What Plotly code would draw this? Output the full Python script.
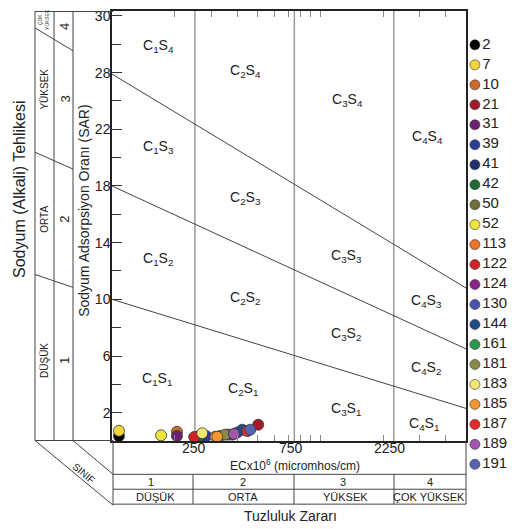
import numpy as np
import plotly.graph_objects as go

# The page body has an 8px margin, so the figure is drawn 8px in from the
# window's top-left corner; all reference pixel positions are shifted by OFF.
OFF = 8
W, H = 519 - OFF, 529 - OFF
TOP = 8  # highest reachable pixel row

# ---------------- data ----------------
samples = ['2', '7', '10', '21', '31', '39', '41', '42', '50', '52', '113',
           '122', '124', '130', '144', '161', '181', '183', '185', '187', '189', '191']
colors = ['#000000', '#f3d43c', '#c96b2c', '#a3192a', '#6b1f6f', '#2c3c96', '#1f2f6b',
          '#1f6b35', '#6f6f3a', '#f0e33c', '#e8732a', '#d0202a', '#8a248a', '#4b4fae',
          '#1c4d85', '#2a9a50', '#8a8a48', '#f0e870', '#f2962f', '#e42a2a', '#a455b0', '#5563b0']
ec = [108, 108, 205, 503, 205, 283, 265, 259, 361, 172, 313,
      248, 378, 399, 422, 330, 349, 271, 320, 446, 385, 461]
sar = [0.35, 0.72, 0.65, 1.15, 0.35, 0.35, 0.40, 0.30, 0.45, 0.40, 0.30,
       0.28, 0.45, 0.60, 0.80, 0.35, 0.45, 0.55, 0.30, 0.70, 0.50, 0.80]

# class boundaries (EC at 100 and 5000)
ec_ends = [100, 5000]
s1_s2 = [10.0, 2.3]
s2_s3 = [18.0, 6.5]
s3_s4 = [25.9, 10.8]
c_bounds = [250, 750, 2250]

y_tickvals = [2, 6, 10, 14, 18, 22, 26, 30]
y_ticktext = ['2', '6', '10', '14', '18', '22', '28', '30']
y_minor = [4, 8, 12, 16, 20, 24, 28]
x_minor = [200, 300, 400, 500, 600, 700, 800, 900, 1000, 2000, 3000, 4000]
x_labels = ['250', '750', '2250']

FONT = 'Liberation Sans, Arial, sans-serif'
TXT = '#222222'
LINE = '#444444'

Y_PER_UNIT = 14.25
Y_BOTTOM = 440.5
Y_TOP_VAL = (Y_BOTTOM - TOP) / Y_PER_UNIT


def px(x):
    return (x - OFF) / W


def py(y):
    return 1 - (max(y, TOP) - OFF) / H


fig = go.Figure()

# vertical salinity class lines
for c in c_bounds:
    fig.add_trace(go.Scatter(x=[c, c], y=[0, Y_TOP_VAL], mode='lines',
                             line=dict(color='#9a9a9a', width=1.5), hoverinfo='skip'))
# sodium hazard boundary lines
for b in (s1_s2, s2_s3, s3_s4):
    fig.add_trace(go.Scatter(x=ec_ends, y=b, mode='lines',
                             line=dict(color=LINE, width=1), hoverinfo='skip'))

# samples
for s, c, e, v in zip(samples, colors, ec, sar):
    fig.add_trace(go.Scatter(x=[e], y=[v], mode='markers', name=s,
                             marker=dict(size=11, color=c, line=dict(color='#333333', width=0.8))))

# manual legend
n = len(samples)
fig.add_trace(go.Scatter(x=[0.1] * n, y=list(range(n)), mode='markers+text', text=samples,
                         textposition='middle right', cliponaxis=False,
                         textfont=dict(size=15, color=TXT, family=FONT),
                         marker=dict(size=10, color=colors, line=dict(color='#333333', width=0.6)),
                         xaxis='x2', yaxis='y2', hoverinfo='skip'))

shapes = []


def seg(x0, y0, x1, y1, color=LINE, width=1):
    shapes.append(dict(type='line', xref='paper', yref='paper',
                       x0=px(x0), y0=py(y0), x1=px(x1), y1=py(y1),
                       line=dict(color=color, width=width)))


# left panel
for x in (35, 54, 73):
    seg(x, TOP, x, 440)
seg(35, TOP + 0.5, 113, TOP + 0.5)
seg(35, 25, 73, 48)
seg(35, 150, 73, 167)
seg(35, 273, 73, 286)
seg(35, 440, 113, 440)
# bottom panel
seg(35, 440, 113, 505)
seg(73, 440, 113, 474)
seg(113, 440, 113, 505)
seg(466, 440, 466, 504)
for y in (474, 489, 504):
    seg(113, y, 466, y)
for x in (193, 294, 394):
    seg(x, 474, x, 504)

annotations = []


def ann(text, x, y, size=14, angle=0):
    annotations.append(dict(text=text, xref='paper', yref='paper', x=px(x), y=py(y),
                            xanchor='center', yanchor='middle', showarrow=False,
                            textangle=angle, font=dict(size=size, color=TXT, family=FONT)))


regions = [('C<sub>1</sub>S<sub>4</sub>', 158, 43), ('C<sub>2</sub>S<sub>4</sub>', 245, 68),
           ('C<sub>3</sub>S<sub>4</sub>', 347, 98), ('C<sub>4</sub>S<sub>4</sub>', 427, 135),
           ('C<sub>1</sub>S<sub>3</sub>', 158, 145), ('C<sub>2</sub>S<sub>3</sub>', 245, 196),
           ('C<sub>3</sub>S<sub>3</sub>', 346, 254), ('C<sub>4</sub>S<sub>3</sub>', 426, 300),
           ('C<sub>1</sub>S<sub>2</sub>', 158, 257), ('C<sub>2</sub>S<sub>2</sub>', 245, 297),
           ('C<sub>3</sub>S<sub>2</sub>', 346, 333), ('C<sub>4</sub>S<sub>2</sub>', 426, 367),
           ('C<sub>1</sub>S<sub>1</sub>', 157, 378), ('C<sub>2</sub>S<sub>1</sub>', 243, 388),
           ('C<sub>3</sub>S<sub>1</sub>', 346, 408), ('C<sub>4</sub>S<sub>1</sub>', 424, 423)]
for t, x, y in regions:
    ann(t, x, y, 14)

ann('Sodyum (Alkali) Tehlikesi', 20, 187, 16, -90)
ann('Sodyum Adsorpsiyon Oranı (SAR)', 84, 209, 14, -90)
ann('ÇOK<br>YÜKSEK', 44, 17, 5, -90)
ann('YÜKSEK', 45, 87, 10, -90)
ann('ORTA', 45, 218, 10, -90)
ann('DÜŞÜK', 45, 360, 10, -90)
for t, y in (('4', 24), ('3', 97), ('2', 218), ('1', 360)):
    ann(t, 65, y, 13, -90)
ann('SINIF', 84, 473, 10, 40)
for t, x in zip(x_labels, (194, 291, 389)):
    ann(t, x, 448, 14)
ann('ECx10<sup>6</sup> (micromhos/cm)', 295, 465, 12)
for t, x in (('1', 151), ('2', 243), ('3', 343), ('4', 430)):
    ann(t, x, 482, 11)
for t, x in (('DÜŞÜK', 155), ('ORTA', 243), ('YÜKSEK', 345), ('ÇOK YÜKSEK', 429)):
    ann(t, x, 497, 11)
ann('Tuzluluk Zararı', 290, 516, 14)

fig.update_layout(
    width=W, height=H, autosize=False,
    margin=dict(l=0, r=0, t=0, b=0, pad=0),
    plot_bgcolor='white', paper_bgcolor='white', showlegend=False,
    font=dict(family=FONT, color=TXT),
    xaxis=dict(type='log', domain=[px(112), px(466)], range=[2, np.log10(5000)],
               tickmode='array', tickvals=x_minor, ticks='inside', ticklen=6,
               tickcolor='#888888', showticklabels=False, showline=True,
               linecolor='#222222', linewidth=1.5, mirror='ticks',
               showgrid=False, zeroline=False),
    yaxis=dict(domain=[py(Y_BOTTOM), 1.0], range=[0, Y_TOP_VAL],
               tickmode='array', tickvals=y_tickvals, ticktext=y_ticktext,
               ticks='inside', ticklen=10, tickcolor='#333333',
               ticklabeloverflow='allow', ticklabelstandoff=-3,
               tickfont=dict(size=14, color=TXT, family=FONT),
               minor=dict(tickmode='array', tickvals=y_minor, ticks='inside',
                          ticklen=9, tickcolor='#333333'),
               showline=True, linecolor='#222222', linewidth=1.5, mirror=True,
               showgrid=False, zeroline=False),
    xaxis2=dict(domain=[px(470), 1], range=[0, 1], visible=False, anchor='y2'),
    yaxis2=dict(domain=[py(474), py(32)], range=[21.5, -0.5], visible=False, anchor='x2'),
    shapes=shapes, annotations=annotations,
)

fig.write_html('out.html')
